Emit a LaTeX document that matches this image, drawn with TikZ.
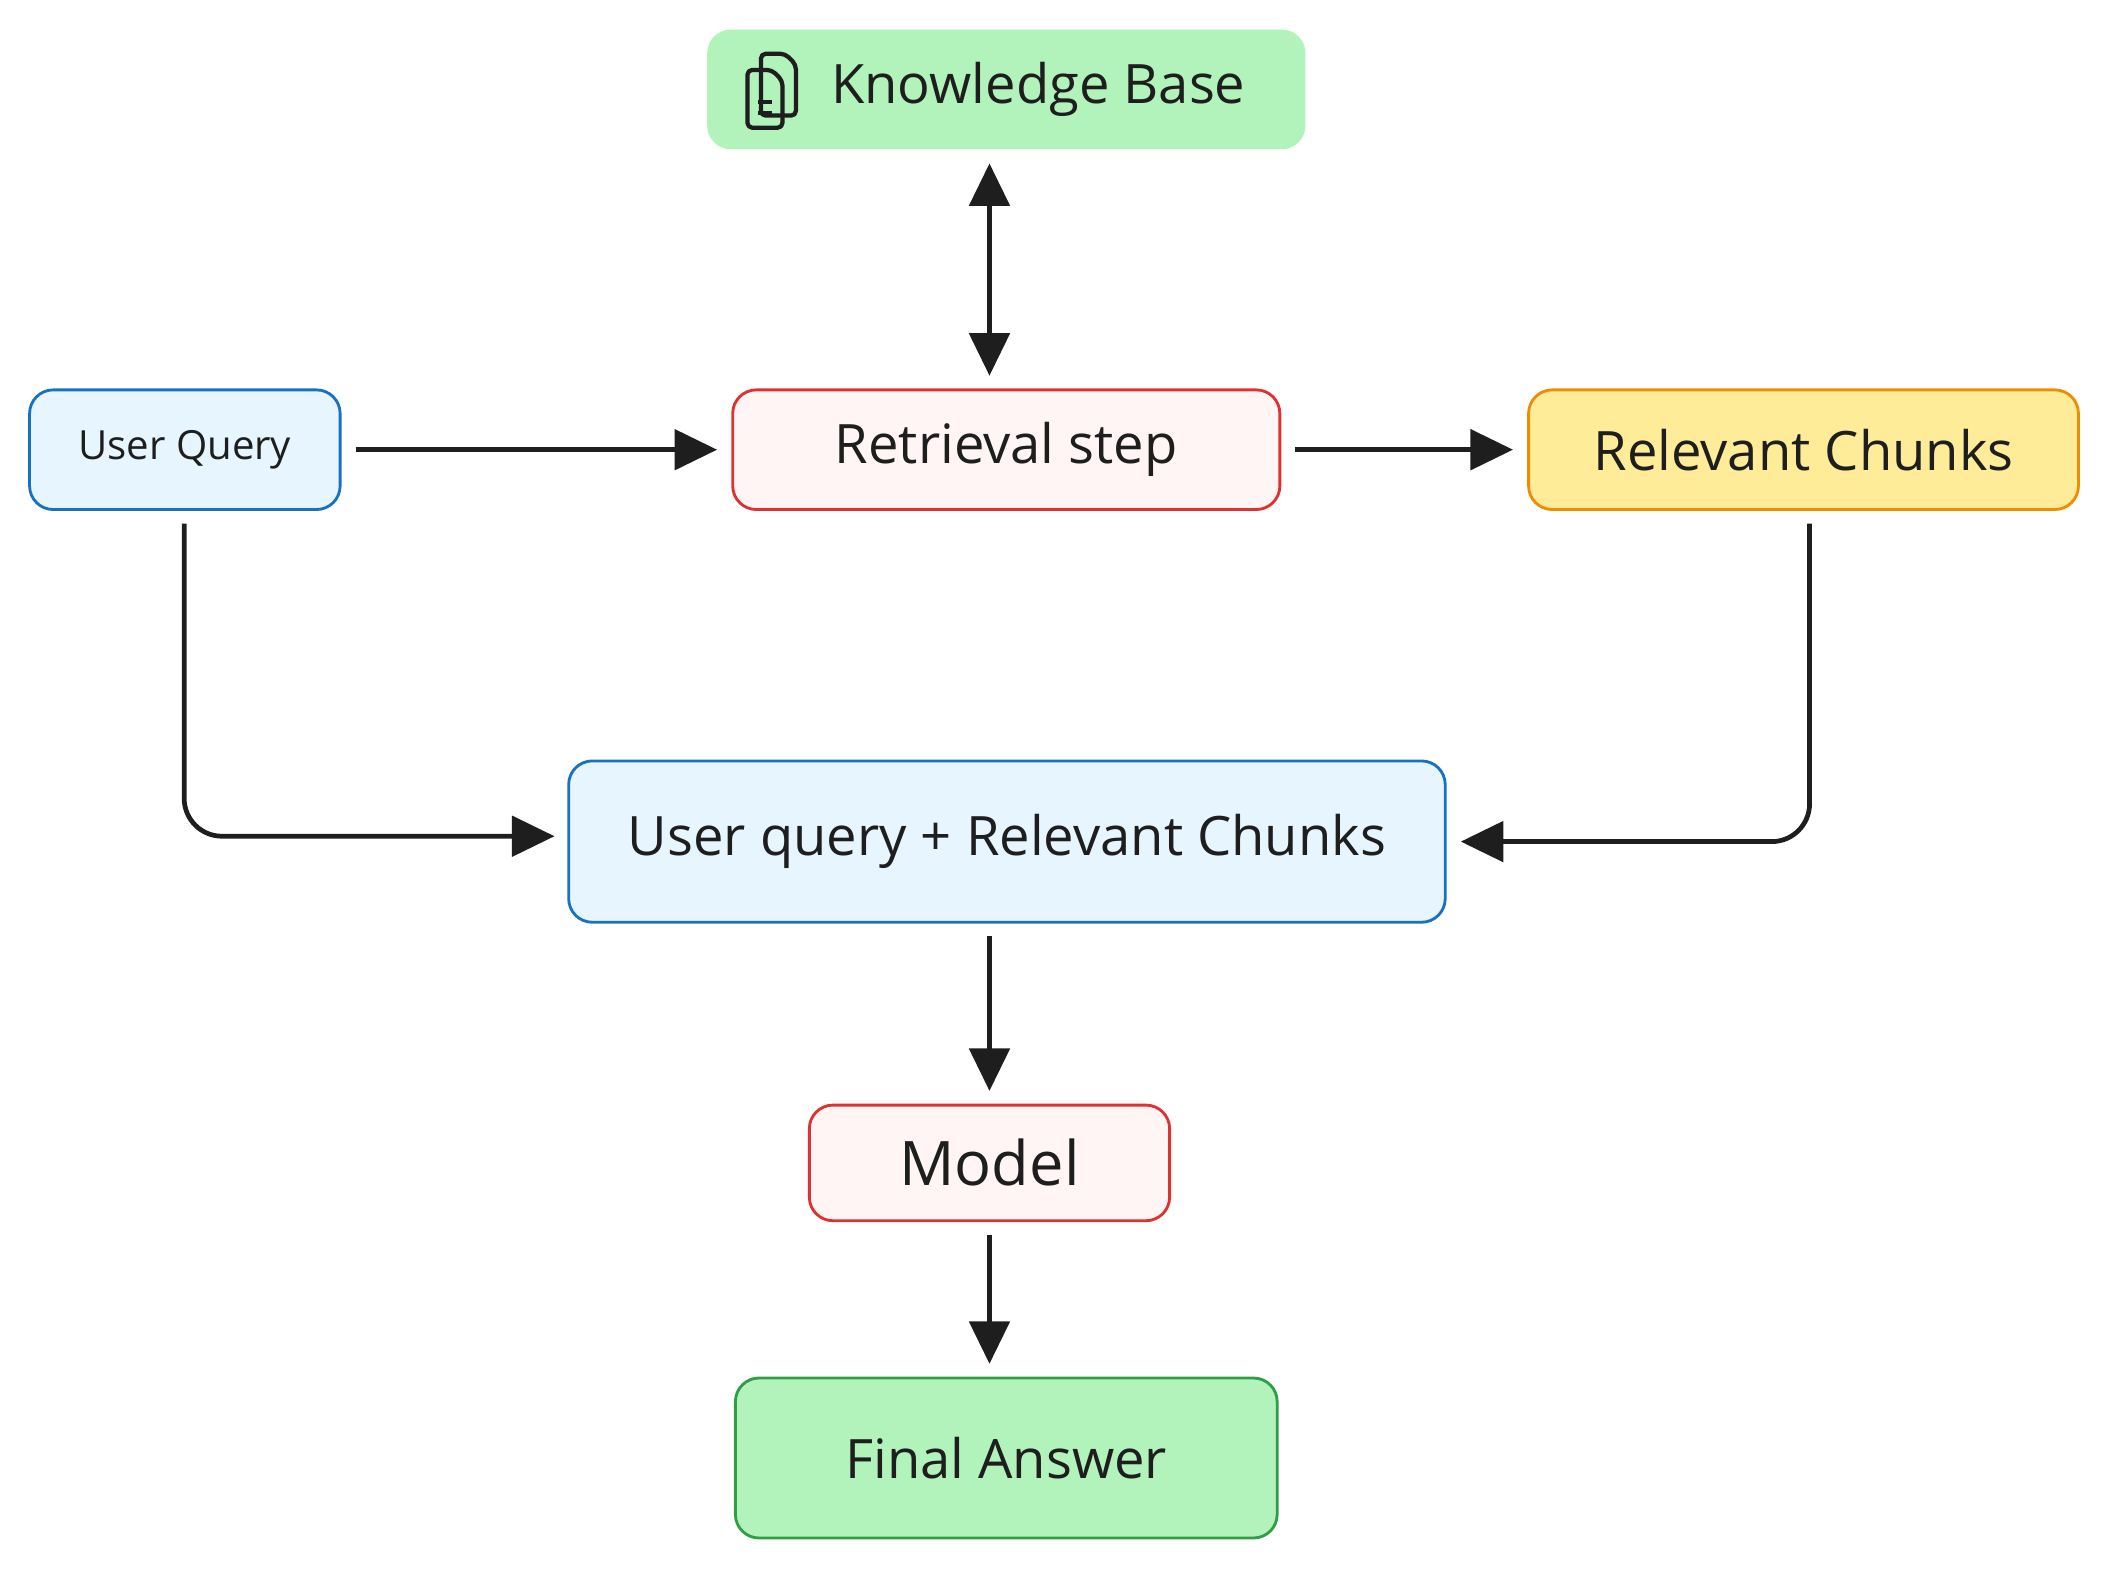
\documentclass[tikz,border=0pt]{standalone}
\usepackage{fontspec}
\setmainfont{Open Sans}
\usetikzlibrary{arrows.meta}
\definecolor{kbg}{HTML}{B2F2BB}
\definecolor{kgb}{HTML}{2F9E44}
\definecolor{bbg}{HTML}{E7F5FF}
\definecolor{bb}{HTML}{1971C2}
\definecolor{rbg}{HTML}{FFF5F5}
\definecolor{rb}{HTML}{E03131}
\definecolor{ybg}{HTML}{FFEC99}
\definecolor{yb}{HTML}{F08C00}
\definecolor{ink}{HTML}{1E1E1E}
\tikzset{
 box/.style={rounded corners=10pt, line width=1.2pt, text=ink, inner sep=0pt},
 conn/.style={line width=2pt, draw=ink, -{Triangle[length=18pt,width=17pt]}, rounded corners=16pt, shorten >=6pt, shorten <=6pt},
}
\begin{document}
\begin{tikzpicture}[x=0.02cm,y=-0.02cm]
\useasboundingbox (0,0) rectangle (1568,1167);
\node[box, fill=kbg, minimum width=445*0.02cm, minimum height=89*0.02cm] (kb) at (748.5,66.5) {};
\node[text=ink, font=\fontsize{23}{26}\selectfont, anchor=west] (kbt) at (612,66.5) {Knowledge Base};
% icon
\begin{scope}[line width=1.8pt, ink, line join=round]
\draw[rounded corners=2pt] (566,40) -- (584,40) -- (592,48) -- (592,86) -- (566,86)  -- cycle;
\draw[rounded corners=2pt] (556,52) -- (574,52) -- (582,60) -- (582,95) -- (556,95) -- cycle;
\draw (564,76) -- (574,76) (564,84) -- (574,84);
\end{scope}
\node[box, draw=bb, fill=bbg, minimum width=231*0.02cm, minimum height=89*0.02cm, font=\fontsize{17}{20}\selectfont] (uq) at (137.5,334.5) {User Query};
\node[box, draw=rb, fill=rbg, minimum width=407*0.02cm, minimum height=89*0.02cm, font=\fontsize{23}{26}\selectfont] (rs) at (748.5,334.5) {Retrieval step};
\node[box, draw=yb, fill=ybg, minimum width=409*0.02cm, minimum height=89*0.02cm, font=\fontsize{23}{26}\selectfont] (rc) at (1341.5,334.5) {Relevant Chunks};
\node[box, draw=bb, fill=bbg, minimum width=652*0.02cm, minimum height=120*0.02cm, font=\fontsize{23}{26}\selectfont] (uc) at (749,626) {User query + Relevant Chunks};
\node[box, draw=rb, fill=rbg, minimum width=268*0.02cm, minimum height=86*0.02cm, font=\fontsize{26}{30}\selectfont] (md) at (736,865) {Model};
\node[box, draw=kgb, fill=kbg, minimum width=403*0.02cm, minimum height=119*0.02cm, font=\fontsize{23}{26}\selectfont] (fa) at (748.5,1084.5) {Final Answer};
\draw[conn, {Triangle[length=18pt,width=17pt]}-{Triangle[length=18pt,width=17pt]}] (736,111) -- (736,290);
\draw[conn] (uq) -- (rs);
\draw[conn] (rs) -- (rc);
\draw[conn] (137,379) -- (137,622) -- (423,622);
\draw[conn] (1346,379) -- (1346,626) -- (uc.east);
\draw[conn] (736,686) -- (736,822);
\draw[conn] (736,908) -- (736,1025);
\end{tikzpicture}
\end{document}
